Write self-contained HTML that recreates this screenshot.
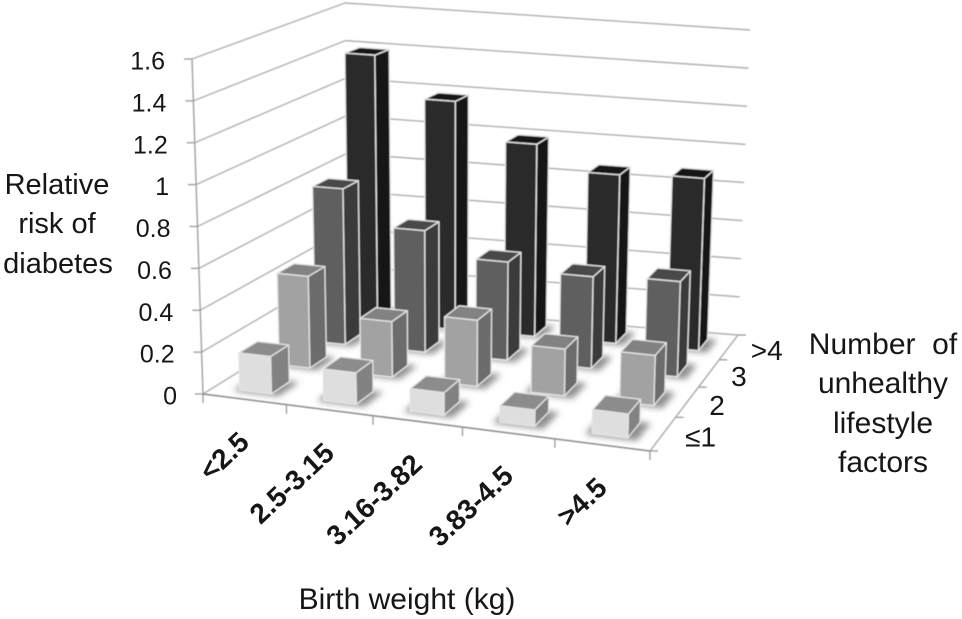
<!DOCTYPE html>
<html lang="en">
<head>
<meta charset="utf-8">
<title>Relative risk of diabetes</title>
<style>
html,body{margin:0;padding:0;background:#fff;width:962px;height:619px;overflow:hidden}
svg{display:block}
text{font-family:"Liberation Sans",sans-serif;fill:#161616}
</style>
</head>
<body>
<svg id="chart" xmlns="http://www.w3.org/2000/svg" width="962" height="619" viewBox="0 0 962 619">
<defs>
<filter id="soft" x="-5%" y="-5%" width="110%" height="110%"><feGaussianBlur stdDeviation="0.55"/></filter>
<filter id="softText" x="-5%" y="-5%" width="110%" height="110%"><feGaussianBlur stdDeviation="0.35"/></filter>
<filter id="shadowBlur" x="-40%" y="-60%" width="180%" height="220%"><feGaussianBlur stdDeviation="3.2"/></filter>
</defs>
<g id="grid" filter="url(#soft)"></g>
<g id="bars" filter="url(#soft)"></g>
<g id="labels" filter="url(#softText)"></g>
<g font-size="29" text-anchor="middle" filter="url(#softText)">
<text x="57" y="194">Relative</text>
<text x="57" y="233">risk of</text>
<text x="58" y="273">diabetes</text>
</g>
<g font-size="30" text-anchor="middle" filter="url(#softText)">
<text x="883" y="354">Number&#160;&#160;of</text>
<text x="883" y="393">unhealthy</text>
<text x="883" y="433">lifestyle</text>
<text x="883" y="472">factors</text>
</g>
<text x="407" y="609" font-size="30" text-anchor="middle" filter="url(#softText)">Birth weight (kg)</text>
</svg>
<script>
// Chart data
const categories = ['<2.5', '2.5-3.15', '3.16-3.82', '3.83-4.5', '>4.5'];
const depthLabels = ['≤1', '2', '3', '>4'];
const yTicks = [0, 0.2, 0.4, 0.6, 0.8, 1, 1.2, 1.4, 1.6];
const yTickLabels = ['0', '0.2', '0.4', '0.6', '0.8', '1', '1.2', '1.4', '1.6'];
const seriesLe1 = [0.178, 0.149, 0.105, 0.076, 0.11];
const series2 = [0.45, 0.27, 0.32, 0.225, 0.24];
const series3 = [0.785, 0.61, 0.49, 0.455, 0.47];
const seriesGt4 = [1.39, 1.18, 0.99, 0.865, 0.88];
const seriesValues = [seriesLe1, series2, series3, seriesGt4];
const yMax = 1.6;

// Face shades per series (front, side, top)
const shades = [
  ['#dedede', '#828282', '#8c8c8c'],
  ['#a2a2a2', '#6c6c6c', '#828282'],
  ['#5e5e5e', '#3a3a3a', '#484848'],
  ['#2a2a2a', '#141414', '#181818']
];

// Projection: floor corners FL, FR, BR, BL and wall corners
const FL = [203, 394], FR = [650, 451], BR = [738, 335], BL = [348, 304];
const TFL = [192, 59], TBL = [345, 3], TBR = [750, 30];
const NS = 'http://www.w3.org/2000/svg';
const sx = FL[0] - FR[0] + BR[0] - BL[0], sy = FL[1] - FR[1] + BR[1] - BL[1];
const dx1 = FR[0] - BR[0], dx2 = BL[0] - BR[0], dy1 = FR[1] - BR[1], dy2 = BL[1] - BR[1];
const den = dx1 * dy2 - dx2 * dy1;
const hg = (sx * dy2 - dx2 * sy) / den, hh = (dx1 * sy - sx * dy1) / den;
const ha = FR[0] - FL[0] + hg * FR[0], hb = BL[0] - FL[0] + hh * BL[0];
const hd = FR[1] - FL[1] + hg * FR[1], he = BL[1] - FL[1] + hh * BL[1];

function floorPoint(uRaw, v) {
  const u = uRaw + 0.11 * uRaw * (1 - uRaw);
  const w = hg * u + hh * v + 1;
  return [(ha * u + hb * v + FL[0]) / w, (hd * u + he * v + FL[1]) / w];
}
function heightAt(u, v) {
  const front = 335 + 15 * u, back = 301 + 4 * u;
  return front + (back - front) * v;
}
function raise(p, u, v, value) {
  const h = value / yMax * heightAt(u, v);
  return [p[0] + (p[0] - 450) * 0.000137 * h, p[1] - h];
}
function lerp(a, b, t) { return [a[0] + (b[0] - a[0]) * t, a[1] + (b[1] - a[1]) * t]; }
function wallLeft(value) { return lerp(FL, TFL, value / yMax); }
function wallBack(value) { return lerp(BL, TBL, value / yMax); }
function wallRight(value) { return lerp(BR, TBR, value / yMax); }
function ptStr(pts) { return pts.map(p => p[0].toFixed(1) + ',' + p[1].toFixed(1)).join(' '); }

const gridG = document.getElementById('grid');
const barsG = document.getElementById('bars');
const labelsG = document.getElementById('labels');

function line(a, b, color, width) {
  const l = document.createElementNS(NS, 'line');
  l.setAttribute('x1', a[0]); l.setAttribute('y1', a[1]);
  l.setAttribute('x2', b[0]); l.setAttribute('y2', b[1]);
  l.setAttribute('stroke', color);
  l.setAttribute('stroke-width', width);
  gridG.appendChild(l);
  return l;
}
function poly(parent, pts, fill, stroke) {
  const p = document.createElementNS(NS, 'polygon');
  p.setAttribute('points', ptStr(pts));
  p.setAttribute('fill', fill);
  p.setAttribute('stroke', stroke || 'none');
  if (stroke) { p.setAttribute('stroke-width', '1.3'); p.setAttribute('stroke-linejoin', 'round'); }
  parent.appendChild(p);
  return p;
}
function label(txt, x, y, size, anchor, weight, rot) {
  const t = document.createElementNS(NS, 'text');
  t.textContent = txt;
  t.setAttribute('x', x); t.setAttribute('y', y);
  t.setAttribute('font-size', size);
  t.setAttribute('text-anchor', anchor);
  if (weight) t.setAttribute('font-weight', weight);
  if (rot) t.setAttribute('transform', 'rotate(' + rot + ' ' + x + ' ' + y + ')');
  labelsG.appendChild(t);
  return t;
}

// Gridlines and value ticks
yTicks.forEach((tick, i) => {
  const a = wallLeft(tick), b = wallBack(tick), c = wallRight(tick);
  const g1 = line(a, b, '#b0b0b0', 1.4);
  
  
  const g2 = line(b, c, '#b0b0b0', 1.4);
  
  
  const tk = line(a, [a[0] - 8, a[1]], '#9a9a9a', 1.3);
  
  
  const yl = label(yTickLabels[i], a[0] - 27 + (tick === 0 ? 1 : 0), a[1] + 10.5, 25, 'end');
  
  
});

// Axis frame
const axisY = line(FL, TFL, '#9a9a9a', 1.3);


const axisX = line(FL, FR, '#8a8a8a', 1.5);


const axisZ = line(FR, BR, '#a8a8a8', 1.4);



for (let c = 0; c <= categories.length; c++) {
  const p = floorPoint(c / categories.length, 0);
  const tk = line(p, [p[0], p[1] + 9], '#9a9a9a', 1.3);
  
  
}
for (let s = 0; s <= depthLabels.length; s++) {
  const p = floorPoint(1, s / depthLabels.length);
  const tk = line(p, [p[0] + 8, p[1]], '#9a9a9a', 1.3);
  
  
}

// Category labels
categories.forEach((name, c) => {
  const p = floorPoint((c + 0.5) / categories.length, 0);
  const t = label(name, p[0] + 6.5, p[1] + 45, 28, 'end', 'bold', -43);
  
  
});

// Depth labels
depthLabels.forEach((name, s) => {
  const p = floorPoint(1, (s + 0.5) / depthLabels.length);
  const t = label(name, p[0] + 22, p[1] + 13, 28, 'start');
  
  
});

// Bars: back row first so nearer rows paint over
const halfU = 0.038, halfV = 0.057;
const edge = '#e4e4e4';
for (let s = seriesValues.length - 1; s >= 0; s--) {
  const v = (s + 0.5) / seriesValues.length;
  for (let c = categories.length - 1; c >= 0; c--) {
    const u = (c + 0.5) / categories.length;
    const value = seriesValues[s][c];
    const u0 = u - halfU, u1 = u + halfU, v0 = v - halfV, v1 = v + halfV;
    const b00 = floorPoint(u0, v0), b10 = floorPoint(u1, v0), b11 = floorPoint(u1, v1), b01 = floorPoint(u0, v1);
    const t00 = raise(b00, u0, v0, value), t10 = raise(b10, u1, v0, value), t11 = raise(b11, u1, v1, value), t01 = raise(b01, u0, v1, value);

    const group = document.createElementNS(NS, 'g');
    
    
    barsG.appendChild(group);

    const sh = poly(group, [
      floorPoint(u0 - 0.012, v0 - 0.012),
      floorPoint(u1 + 0.022, v0 - 0.012),
      floorPoint(u1 + 0.022, v1 + 0.006),
      floorPoint(u0 - 0.012, v1 + 0.006)
    ], '#8f8f8f');
    sh.setAttribute('filter', 'url(#shadowBlur)');
    
    

    const side = poly(group, [b10, b11, t11, t10], shades[s][1], edge);
    
    
    const top = poly(group, [t00, t10, t11, t01], shades[s][2], edge);
    
    
    const front = poly(group, [b00, b10, t10, t00], shades[s][0], edge);
    
    
  }
}
</script>
</body>
</html>
